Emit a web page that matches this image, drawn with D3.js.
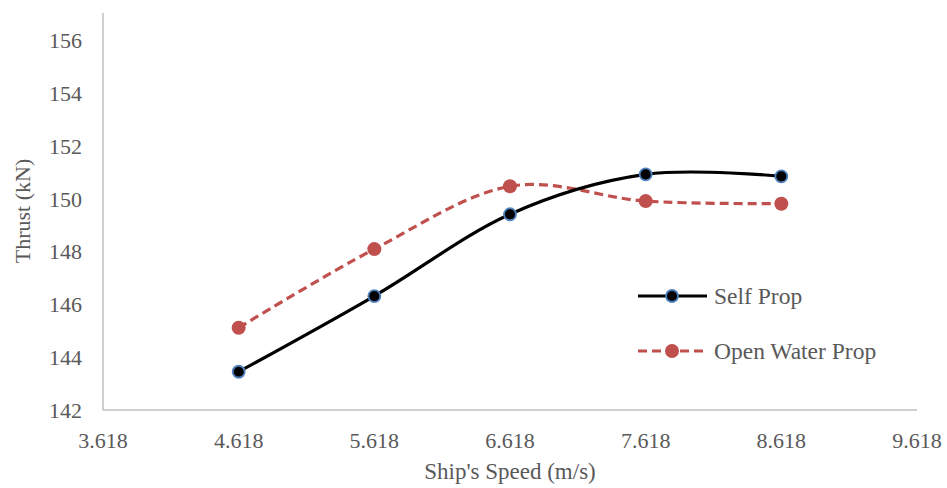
<!DOCTYPE html>
<html><head><meta charset="utf-8">
<script src="https://cdn.jsdelivr.net/npm/d3@7"></script>
<style>body{margin:0;background:#fff}svg{display:block}</style>
</head><body><svg id="c" width="947" height="488"></svg>
<script>
const speeds = [4.618, 5.618, 6.618, 7.618, 8.618];
const selfProp = [143.45, 146.32, 149.42, 150.93, 150.86];
const openWater = [145.12, 148.1, 150.48, 149.92, 149.82];
const xTicks = [3.618, 4.618, 5.618, 6.618, 7.618, 8.618, 9.618];
const yTicks = [142, 144, 146, 148, 150, 152, 154, 156];
const seriesNames = ["Self Prop", "Open Water Prop"];

const svg = d3.select("#c");
const font = "'Liberation Serif','Times New Roman',serif";
const x = d3.scaleLinear().domain([3.618, 9.618]).range([103, 917]);
const y = d3.scaleLinear().domain([142, 157.05]).range([410, 13]);
const grey = "#595959";

// axes
svg.append("line").attr("x1", x(3.618)).attr("x2", x(3.618)).attr("y1", y(157.05)).attr("y2", y(142))
  .attr("stroke", "#bfbfbf").attr("stroke-width", 1.5);
svg.append("line").attr("x1", x(3.618)).attr("x2", x(9.618)).attr("y1", y(142)).attr("y2", y(142))
  .attr("stroke", "#bfbfbf").attr("stroke-width", 1.5);

svg.selectAll(".yt").data(yTicks).enter().append("text")
  .attr("x", 82).attr("y", d => y(d)).attr("dy", "0.35em").attr("text-anchor", "end")
  .attr("font-family", font).attr("font-size", 22).attr("fill", grey).text(d => d);
svg.selectAll(".xt").data(xTicks).enter().append("text")
  .attr("x", d => x(d)).attr("y", 448).attr("text-anchor", "middle")
  .attr("font-family", font).attr("font-size", 22).attr("fill", grey).text(d => d.toFixed(3));

svg.append("text").attr("x", (x(3.618) + x(9.618)) / 2).attr("y", 479).attr("text-anchor", "middle")
  .attr("font-family", font).attr("font-size", 23).attr("fill", grey).text("Ship's Speed (m/s)");
svg.append("text").attr("transform", "translate(30,211) rotate(-90)").attr("text-anchor", "middle")
  .attr("font-family", font).attr("font-size", 22).attr("fill", grey).text("Thrust (kN)");

const line = d3.line().x(d => x(d[0])).y(d => y(d[1])).curve(d3.curveCardinal.tension(0));
const dSelf = speeds.map((s, i) => [s, selfProp[i]]);
const dOpen = speeds.map((s, i) => [s, openWater[i]]);

svg.append("path").attr("d", line(dOpen)).attr("fill", "none").attr("stroke", "#c0504d")
  .attr("stroke-width", 3.2).attr("stroke-dasharray", "9,5");
svg.append("path").attr("d", line(dSelf)).attr("fill", "none").attr("stroke", "#000")
  .attr("stroke-width", 3.2);

svg.selectAll(".mo").data(dOpen).enter().append("circle")
  .attr("cx", d => x(d[0])).attr("cy", d => y(d[1])).attr("r", 7).attr("fill", "#c0504d");
svg.selectAll(".ms").data(dSelf).enter().append("circle")
  .attr("cx", d => x(d[0])).attr("cy", d => y(d[1])).attr("r", 6).attr("fill", "#000")
  .attr("stroke", "#4f81bd").attr("stroke-width", 1.8);

// legend
const leg = [{name: seriesNames[0], ly: 296, self: true}, {name: seriesNames[1], ly: 351, self: false}];
leg.forEach(l => {
  const g = svg.append("g");
  g.append("line").attr("x1", 638).attr("x2", 707).attr("y1", l.ly).attr("y2", l.ly)
    .attr("stroke", l.self ? "#000" : "#c0504d").attr("stroke-width", 3.2)
    .attr("stroke-dasharray", l.self ? null : "9,5");
  if (l.self) {
    g.append("circle").attr("cx", 672).attr("cy", l.ly).attr("r", 6).attr("fill", "#000")
      .attr("stroke", "#4f81bd").attr("stroke-width", 1.8);
  } else {
    g.append("circle").attr("cx", 672).attr("cy", l.ly).attr("r", 7).attr("fill", "#c0504d");
  }
  g.append("text").attr("x", 714).attr("y", l.ly).attr("dy", "0.35em")
    .attr("font-family", font).attr("font-size", 23.5).attr("fill", grey).text(l.name);
});
</script></body></html>
